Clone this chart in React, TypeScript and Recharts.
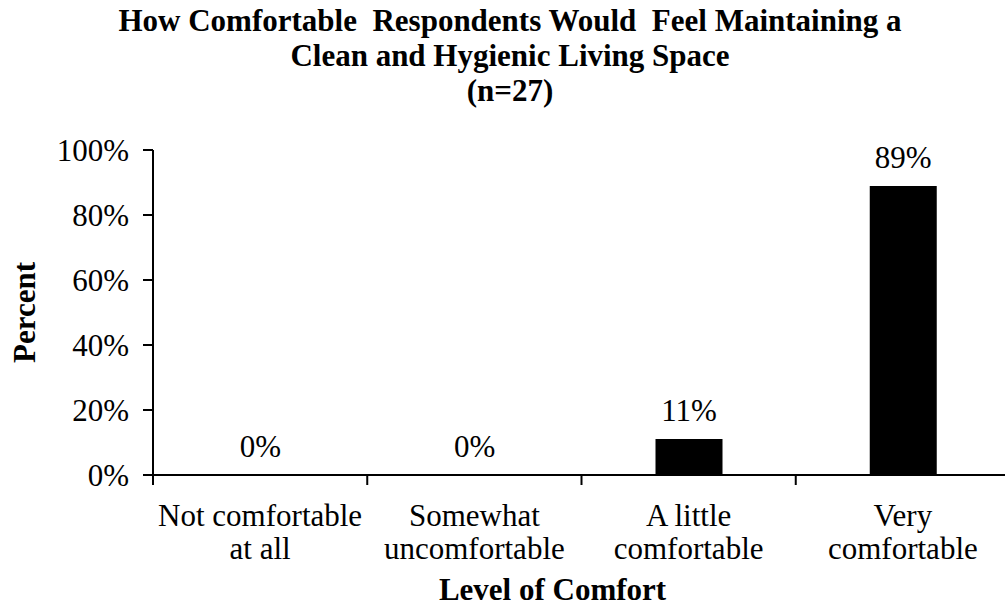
import { BarChart, Bar, XAxis, YAxis, LabelList, Label } from 'recharts';

// categories (line breaks as in the original axis labels)
const categories = ['Not comfortable\nat all', 'Somewhat\nuncomfortable', 'A little\ncomfortable', 'Very\ncomfortable'];
// percent of respondents (n=27)
const percents = [0, 0, 11.1, 88.9];
const yTicks = [0, 20, 40, 60, 80, 100];
const titleLines = [
  'How Comfortable  Respondents Would  Feel Maintaining a',
  'Clean and Hygienic Living Space',
  '(n=27)',
];

const data = categories.map((name, i) => ({ name, value: percents[i] }));

const W = 1005;
const H = 610;
const CHART_W = 1010; // plot area runs slightly past the right edge, as in the original
const AXIS_W = 153;
const BAND = (CHART_W - AXIS_W) / categories.length;
const FONT = '"Liberation Serif", "Times New Roman", serif';

const CategoryTick = (props: any) => {
  const { x, y, payload } = props;
  const lines = String(payload.value).split('\n');
  const edge = x - BAND / 2;
  return (
    <g>
      <line x1={edge} x2={edge} y1={y - 10} y2={y} stroke="#000" strokeWidth={2} />
      <text x={x} y={y + 41} textAnchor="middle" fontFamily={FONT} fontSize={31} fill="#000">
        {lines.map((l, i) => (
          <tspan key={i} x={x} dy={i === 0 ? 0 : 33}>
            {l}
          </tspan>
        ))}
      </text>
    </g>
  );
};

const App = () => {
  return (
    <div style={{ position: 'absolute', left: 0, top: 0, width: W, height: H, overflow: 'hidden', background: '#fff' }}>
      <div
        style={{
          position: 'absolute',
          left: 15,
          top: 3,
          width: 990,
          textAlign: 'center',
          fontFamily: FONT,
          fontWeight: 'bold',
          fontSize: 31,
          lineHeight: '35px',
          color: '#000',
          whiteSpace: 'pre',
        }}
      >
        {titleLines.map((t, i) => (
          <div key={i}>{t}</div>
        ))}
      </div>
      <BarChart width={CHART_W} height={H} data={data} margin={{ top: 150, right: 0, bottom: 0, left: 0 }}>
        <XAxis
          dataKey="name"
          height={135}
          interval={0}
          tickLine={false}
          tickSize={10}
          tickMargin={0}
          tick={<CategoryTick />}
          axisLine={{ stroke: '#000', strokeWidth: 2 }}
        >
          <Label
            value="Level of Comfort"
            position="insideBottom"
            offset={10}
            dx={-29}
            fontFamily={FONT}
            fontSize={31}
            fontWeight="bold"
            fill="#000"
          />
        </XAxis>
        <YAxis
          width={AXIS_W}
          domain={[0, 100]}
          ticks={yTicks}
          tickFormatter={(v: number) => `${v}%`}
          tickSize={10}
          tickMargin={14}
          tickLine={{ stroke: '#000', strokeWidth: 2 }}
          axisLine={{ stroke: '#000', strokeWidth: 2 }}
          tick={{ fontFamily: FONT, fontSize: 31, fill: '#000' }}
        >
          <Label
            value="Percent"
            angle={-90}
            position="insideLeft"
            offset={24}
            style={{ textAnchor: 'middle' }}
            fontFamily={FONT}
            fontSize={31}
            fontWeight="bold"
            fill="#000"
          />
        </YAxis>
        <Bar dataKey="value" fill="#000" barSize={67} minPointSize={0.5} isAnimationActive={false}>
          <LabelList
            dataKey="value"
            position="top"
            offset={18}
            formatter={(v: any) => `${Math.round(Number(v))}%`}
            fontFamily={FONT}
            fontSize={31}
            fill="#000"
          />
        </Bar>
      </BarChart>
    </div>
  );
};

export default App;
